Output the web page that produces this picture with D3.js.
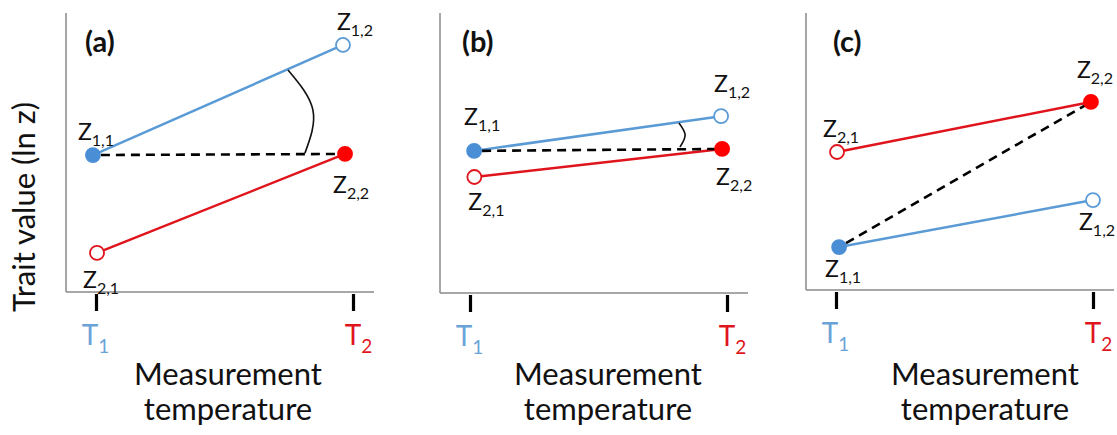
<!DOCTYPE html>
<html>
<head>
<meta charset="utf-8">
<script src="https://cdn.jsdelivr.net/npm/d3@7"></script>
<style>
  html, body { margin: 0; padding: 0; background: #fff; }
  svg { display: block; }
  text { font-family: Lato, "Open Sans", "DejaVu Sans", sans-serif; }
</style>
</head>
<body>
<svg id="chart" width="1117" height="435"></svg>
<script>
// ---------------- DATA ----------------
const panelNames = ["(a)", "(b)", "(c)"];
const tickLabels = ["T", "T"];
const tickSubs = ["1", "2"];
const tickColors = ["#6aa3d8", "#e0141c"];

// Trait values (ln z) on an arbitrary 0-10 scale, one entry per panel
const z11 = [4.89, 5.04, 1.58];   // genotype 1 at T1 (filled)
const z12 = [8.85, 6.29, 3.27];   // genotype 1 at T2 (open)
const z21 = [1.37, 4.10, 5.00];   // genotype 2 at T1 (open)
const z22 = [4.93, 5.11, 6.80];   // genotype 2 at T2 (filled)

// measurement position (0 = T1, 1 = T2) as drawn
const x11 = [-0.012, 0.016, 0.012];
const x12 = [0.961, 0.977, 1.0];
const x21 = [0.004, 0.017, 0.004];
const x22 = [0.969, 0.981, 0.992];

// angle arcs (x, trait value) for panels a and b
const arcA = [[0.747, 7.95], [0.844, 6.51], [0.813, 4.96]];
const arcB = [[0.813, 6.04], [0.837, 5.61], [0.817, 5.18]];
const arcs = [arcA, arcB, null];

// ---------------- LAYOUT ----------------
const panelLeft = [66, 440, 806];
const axisBottom = [292, 293, 290];
const labelCenter = [228, 608, 985];
const titleX = [85, 462, 833];
const W = 308, T1off = 30, T2off = 287, topY = 13;

// label offsets [dx, dy] of Z baseline relative to point
const labOff = [
  { z11: [-15, -15], z12: [-6, -15], z21: [-14, 35], z22: [-12, 39] },
  { z11: [-10, -26], z12: [-7, -24], z21: [-6, 33], z22: [-6, 36] },
  { z11: [-14, 30], z12: [-14, 30], z21: [-14, -15], z22: [-14, -24] }
];

const blueLine = "#5b9bd5", blueFill = "#4a8ed6";
const redLine = "#e0141c", redFill = "#ff0000";

const svg = d3.select("#chart");

// y-axis title
svg.append("text")
  .attr("transform", "translate(35,207) rotate(-90)")
  .attr("text-anchor", "middle")
  .attr("font-size", 31)
  .attr("fill", "#111")
  .text("Trait value (ln z)");

panelNames.forEach((name, i) => {
  const L = panelLeft[i];
  const yb = axisBottom[i];
  const x = d3.scaleLinear().domain([0, 1]).range([L + T1off, L + T2off]);
  const y = d3.scaleLinear().domain([0, 10]).range([291, topY]);
  const g = svg.append("g");

  // axes
  g.append("line").attr("x1", L).attr("x2", L).attr("y1", topY).attr("y2", yb)
    .attr("stroke", "#8a8a8a").attr("stroke-width", 1.5);
  g.append("line").attr("x1", L).attr("x2", L + W).attr("y1", yb).attr("y2", yb)
    .attr("stroke", "#8a8a8a").attr("stroke-width", 1.5);

  // ticks via d3 axis
  const xAxis = d3.axisBottom(x).tickValues([0, 1]).tickSize(0).tickFormat("");
  const ag = g.append("g").attr("transform", `translate(0,${yb})`).call(xAxis);
  ag.select(".domain").remove();
  ag.selectAll(".tick").append("line")
    .attr("y1", 2).attr("y2", 19)
    .attr("stroke", "#000").attr("stroke-width", 3.2);
  ag.selectAll(".tick").append("text")
    .attr("y", 53)
    .attr("x", (d, j) => j === 0 ? -1 : 5)
    .attr("text-anchor", "middle")
    .attr("fill", (d, j) => tickColors[j])
    .attr("font-size", 28)
    .attr("font-family", "Lato, 'Open Sans', sans-serif")
    .each(function (d, j) {
      const t = d3.select(this);
      t.append("tspan").text(tickLabels[j]);
      t.append("tspan").attr("dy", 8).attr("font-size", 19).text(tickSubs[j]);
    });

  // axis title
  g.append("text").attr("x", labelCenter[i]).attr("y", 385)
    .attr("text-anchor", "middle").attr("font-size", 31).attr("fill", "#111")
    .text("Measurement");
  g.append("text").attr("x", labelCenter[i]).attr("y", 420)
    .attr("text-anchor", "middle").attr("font-size", 31).attr("fill", "#111")
    .text("temperature");

  // panel title
  g.append("text").attr("x", titleX[i]).attr("y", 52)
    .attr("font-size", 29).attr("font-weight", "bold").attr("fill", "#111")
    .text(name);

  const line = d3.line().x(d => x(d[0])).y(d => y(d[1]));

  // genotype lines
  g.append("path").attr("d", line([[x21[i], z21[i]], [x22[i], z22[i]]]))
    .attr("stroke", redLine).attr("stroke-width", 2.5).attr("fill", "none");
  g.append("path").attr("d", line([[x11[i], z11[i]], [x12[i], z12[i]]]))
    .attr("stroke", blueLine).attr("stroke-width", 2.5).attr("fill", "none");
  // dashed reference
  g.append("path").attr("d", line([[x11[i], z11[i]], [x22[i], z22[i]]]))
    .attr("stroke", "#000").attr("stroke-width", 2.6).attr("fill", "none")
    .attr("stroke-dasharray", "9,6").attr("stroke-dashoffset", -8);

  // angle arc
  if (arcs[i]) {
    const arcLine = d3.line().curve(d3.curveNatural).x(d => x(d[0])).y(d => y(d[1]));
    g.append("path").attr("d", arcLine(arcs[i]))
      .attr("stroke", "#111").attr("stroke-width", 1.6).attr("fill", "none");
  }

  // points
  const pts = [
    { key: "z11", xv: x11[i], yv: z11[i], fill: blueFill, stroke: blueFill, sub: "1,1" },
    { key: "z12", xv: x12[i], yv: z12[i], fill: "#fff", stroke: blueLine, sub: "1,2" },
    { key: "z21", xv: x21[i], yv: z21[i], fill: "#fff", stroke: redLine, sub: "2,1" },
    { key: "z22", xv: x22[i], yv: z22[i], fill: redFill, stroke: redFill, sub: "2,2" }
  ];
  g.selectAll("circle.pt").data(pts).join("circle").attr("class", "pt")
    .attr("cx", d => x(d.xv)).attr("cy", d => y(d.yv)).attr("r", 7)
    .attr("fill", d => d.fill).attr("stroke", d => d.stroke).attr("stroke-width", 1.8);

  // labels
  g.selectAll("text.zl").data(pts).join("text").attr("class", "zl")
    .attr("x", d => x(d.xv) + labOff[i][d.key][0])
    .attr("y", d => y(d.yv) + labOff[i][d.key][1])
    .attr("fill", "#111")
    .attr("font-size", 23)
    .each(function (d) {
      const t = d3.select(this);
      t.append("tspan").text("Z");
      t.append("tspan").attr("dy", 6).attr("font-size", 16).text(d.sub);
    });
});
</script>
</body>
</html>
